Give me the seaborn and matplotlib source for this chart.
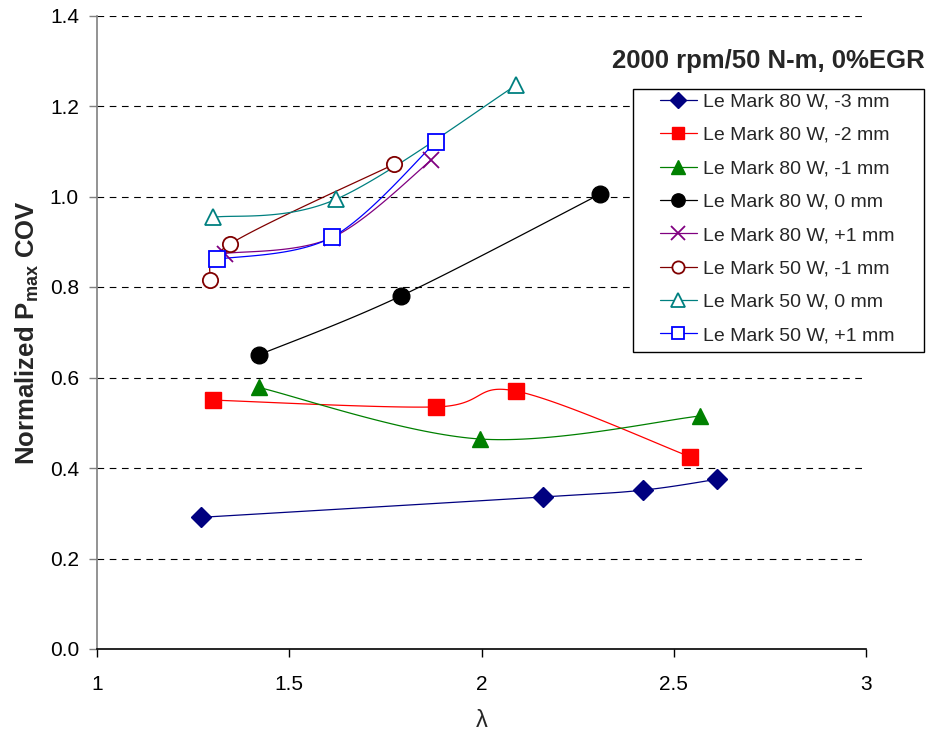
import numpy as np
import pandas as pd
import matplotlib
matplotlib.use("Agg")
import matplotlib.pyplot as plt
import seaborn as sns
from matplotlib.lines import Line2D
from matplotlib.patches import Rectangle

# ---- data: lambda vs normalized Pmax COV, 2000 rpm / 50 N-m, 0% EGR ----
lam_80w_m3 = [1.271, 2.160, 2.419, 2.612]
cov_80w_m3 = [0.291, 0.336, 0.351, 0.375]

lam_80w_m2 = [1.302, 1.882, 2.090, 2.542]
cov_80w_m2 = [0.550, 0.535, 0.570, 0.425]

lam_80w_m1 = [1.421, 1.997, 2.569]
cov_80w_m1 = [0.578, 0.464, 0.515]

lam_80w_0 = [1.421, 1.790, 2.308]
cov_80w_0 = [0.650, 0.780, 1.005]

lam_80w_p1 = [1.332, 1.611, 1.869]
cov_80w_p1 = [0.874, 0.909, 1.080]

lam_50w_m1 = [1.294, 1.346, 1.772]
cov_50w_m1 = [0.815, 0.895, 1.071]

lam_50w_0 = [1.302, 1.622, 2.090]
cov_50w_0 = [0.954, 0.994, 1.246]

lam_50w_p1 = [1.312, 1.611, 1.882]
cov_50w_p1 = [0.861, 0.910, 1.121]

labels = ["Le Mark 80 W, -3 mm", "Le Mark 80 W, -2 mm", "Le Mark 80 W, -1 mm",
          "Le Mark 80 W, 0 mm", "Le Mark 80 W, +1 mm", "Le Mark 50 W, -1 mm",
          "Le Mark 50 W, 0 mm", "Le Mark 50 W, +1 mm"]
x_ticks = [1, 1.5, 2, 2.5, 3]
x_tick_labels = ["1", "1.5", "2", "2.5", "3"]
y_ticks = [0.0, 0.2, 0.4, 0.6, 0.8, 1.0, 1.2, 1.4]
y_tick_labels = ["0.0", "0.2", "0.4", "0.6", "0.8", "1.0", "1.2", "1.4"]

series = [
    (lam_80w_m3, cov_80w_m3, "#000080", "D", True, 10.0),
    (lam_80w_m2, cov_80w_m2, "#FF0000", "s", True, 11.0),
    (lam_80w_m1, cov_80w_m1, "#008000", "^", True, 12.0),
    (lam_80w_0, cov_80w_0, "#000000", "o", True, 12.0),
    (lam_80w_p1, cov_80w_p1, "#800080", "x", False, 12.0),
    (lam_50w_m1, cov_50w_m1, "#800000", "o", False, 11.0),
    (lam_50w_0, cov_50w_0, "#008080", "^", False, 12.0),
    (lam_50w_p1, cov_50w_p1, "#0000FF", "s", False, 11.0),
]


def smooth_curve(xs, ys, n=40):
    """Piecewise cubic Bezier through the points (spreadsheet-style smoothed line)."""
    p = np.column_stack([xs, ys]).astype(float)
    ext = np.vstack([p[0], p, p[-1]])
    out = []
    t = np.linspace(0, 1, n)[:, None]
    for i in range(len(p) - 1):
        p0, p1, p2, p3 = ext[i], ext[i + 1], ext[i + 2], ext[i + 3]
        c1 = p1 + (p2 - p0) / 6.0
        c2 = p2 - (p3 - p1) / 6.0
        seg = ((1 - t) ** 3) * p1 + 3 * ((1 - t) ** 2) * t * c1 + 3 * (1 - t) * t ** 2 * c2 + t ** 3 * p2
        out.append(seg if i == 0 else seg[1:])
    c = np.vstack(out)
    return c[:, 0], c[:, 1]


sns.set_theme(style="white")
plt.rcParams["font.family"] = ["Liberation Sans", "DejaVu Sans"]
plt.rcParams["mathtext.fontset"] = "custom"
plt.rcParams["mathtext.rm"] = "Liberation Sans"
plt.rcParams["mathtext.bf"] = "Liberation Sans:bold"

W, H = 935, 730
fig = plt.figure(figsize=(W / 100, H / 100), dpi=100)
ax = fig.add_axes([97 / W, 1 - 649 / H, (866 - 97) / W, (649 - 15.5) / H])

ax.set_xlim(1, 3)
ax.set_ylim(0, 1.4)

for yv in y_ticks[1:]:
    ax.axhline(yv, color="black", lw=0.8, ls=(0, (6, 5)), zorder=0)

handles = []
for (xs, ys, col, mk, filled, ms), lab in zip(series, labels):
    sx, sy = smooth_curve(xs, ys)
    curve = pd.DataFrame({"lam": sx, "cov": sy})
    sns.lineplot(data=curve, x="lam", y="cov", sort=False, estimator=None,
                 color=col, lw=0.9, ax=ax, zorder=2)
    if filled:
        ax.plot(xs, ys, ls="none", marker=mk, ms=ms, color=col, mec=col, zorder=3)
        h = Line2D([], [], color=col, lw=0.9, marker=mk, ms=ms * 0.8, mec=col, mfc=col)
    elif mk == "x":
        ax.plot(xs, ys, ls="none", marker=mk, ms=ms, color=col, mew=1.3, zorder=3)
        h = Line2D([], [], color=col, lw=0.9, marker=mk, ms=ms * 0.8, mew=1.3)
    else:
        ax.plot(xs, ys, ls="none", marker=mk, ms=ms, mfc="white", mec=col, mew=1.3, zorder=3)
        h = Line2D([], [], color=col, lw=0.9, marker=mk, ms=ms * 0.8, mfc="white", mec=col, mew=1.3)
    handles.append(h)

ax.set_xticks(x_ticks)
ax.set_xticklabels(x_tick_labels, fontsize=15)
ax.set_yticks(y_ticks)
ax.set_yticklabels(y_tick_labels, fontsize=15)
ax.tick_params(axis="x", direction="out", length=6, width=1, colors="black", bottom=True, pad=13)
ax.tick_params(axis="y", direction="out", length=6, width=1, color="#808080",
               labelcolor="black", left=True, pad=7)

for s in ["top", "right"]:
    ax.spines[s].set_visible(False)
ax.spines["left"].set_color("#808080")
ax.spines["left"].set_linewidth(1.2)
ax.spines["bottom"].set_color("black")
ax.spines["bottom"].set_linewidth(1.2)

ax.set_xlabel("λ", fontsize=17, labelpad=11)
ax.set_ylabel(r"Normalized P$_{\mathbf{max}}$ COV", fontsize=18.5, fontweight="bold", labelpad=6)

fig.text(768 / W, 1 - 61 / H, "2000 rpm/50 N-m, 0%EGR", fontsize=18.5,
         fontweight="bold", ha="center", va="center")

# legend box drawn as its own rectangle, entries placed inside it
fig.patches.append(Rectangle((633 / W, 1 - 352 / H), (924 - 633) / W, (352 - 89) / H,
                             transform=fig.transFigure, fill=True, facecolor="white",
                             edgecolor="black", lw=1.0, zorder=5))
leg = fig.legend(handles=handles, labels=labels, loc="upper left",
                 bbox_to_anchor=(660 / W, 1 - 93 / H), borderaxespad=0, borderpad=0,
                 frameon=False, fontsize=14, handlelength=1.9,
                 handletextpad=0.3, labelspacing=0.81)
leg.set_zorder(6)

fig.savefig("out.png", dpi=100)
